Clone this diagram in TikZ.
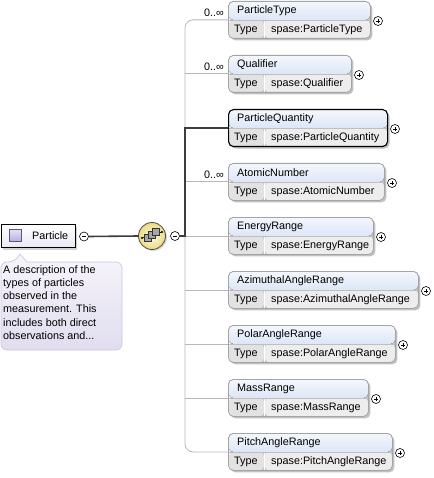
\documentclass[tikz,border=0pt]{standalone}
\usepackage{fontspec}
\setmainfont{Liberation Sans}
\usetikzlibrary{shadows}
\definecolor{hdrtop}{HTML}{F4F7FD}
\definecolor{hdrbot}{HTML}{C5D6F0}
\definecolor{typecell}{HTML}{E2E2E2}
\definecolor{valcell}{HTML}{EDEDED}
\definecolor{boxline}{HTML}{A4A4A4}
\definecolor{connline}{HTML}{B8B8B8}
\definecolor{darkconn}{HTML}{3C3C3C}
\definecolor{doctop}{HTML}{F6F4FB}
\definecolor{docbot}{HTML}{E1DDEF}
\definecolor{docline}{HTML}{CBC7DA}
\definecolor{seqin}{HTML}{FFFBE2}
\definecolor{seqout}{HTML}{EADA86}
\definecolor{icontop}{HTML}{E4DFF6}
\definecolor{iconbot}{HTML}{B9AEDF}
\tikzset{
  lbl/.style={inner sep=0pt, font=\fontsize{10.8}{12}\selectfont, text=black},
  elembox/.style={draw=boxline, line width=0.8pt, rounded corners=5pt, minimum height=37pt, inner sep=0pt,
    drop shadow={shadow xshift=2pt, shadow yshift=-2pt, fill=black!30, opacity=0.8},
    path picture={
      \fill[top color=hdrtop, bottom color=hdrbot] (path picture bounding box.north west) rectangle (path picture bounding box.east);
      \fill[typecell] (path picture bounding box.west) rectangle ([xshift=36pt]path picture bounding box.south west);
      \fill[valcell] ([xshift=36pt]path picture bounding box.west) rectangle (path picture bounding box.south east);
      \draw[white, line width=0.8pt] ([xshift=36pt]path picture bounding box.west) -- ([xshift=36pt]path picture bounding box.south west);
      \draw[boxline!70, line width=0.5pt] (path picture bounding box.west) -- (path picture bounding box.east);
    }},
  strongbox/.style={draw=black, line width=1.1pt},
  tog/.style={circle, draw=black, fill=white, line width=0.6pt, minimum size=9pt, inner sep=0pt},
  minusc/.style={tog, path picture={\draw[line width=0.6pt] ([xshift=-2.3pt]path picture bounding box.center) -- ([xshift=2.3pt]path picture bounding box.center);}},
  plusc/.style={tog, path picture={\draw[line width=0.6pt] ([xshift=-2.3pt]path picture bounding box.center) -- ([xshift=2.3pt]path picture bounding box.center) ([yshift=-2.3pt]path picture bounding box.center) -- ([yshift=2.3pt]path picture bounding box.center);}},
  conn/.style={draw=connline, line width=0.8pt},
  thickconn/.style={draw=darkconn, line width=1.6pt},
  occ/.style={lbl, anchor=east},
}
\newcommand\xelem[5][]{%
  \node[elembox,#1,minimum width=#4pt,anchor=north west] (#2) at (228,#3) {};
  \node[lbl,anchor=west] (#2t) at (237,#3+10) {#5};
  \node[lbl,anchor=west] (#2k) at (234,#3+28.5) {Type};
  \node[lbl,anchor=west] (#2v) at (271,#3+28.5) {spase:#5};
  \node[plusc] (#2p) at (228+#4+8,#3+20) {};
}
\begin{document}
\begin{tikzpicture}[x=1pt,y=-1pt]
\useasboundingbox (0,0) rectangle (433,478);

% elements
\xelem{pt}{1}{142}{ParticleType}
\xelem{q}{55}{123}{Qualifier}
\xelem[strongbox]{pq}{109}{159}{ParticleQuantity}
\xelem{an}{163}{156}{AtomicNumber}
\xelem{er}{217}{145}{EnergyRange}
\xelem{aar}{271}{190}{AzimuthalAngleRange}
\xelem{par}{325}{167}{PolarAngleRange}
\xelem{mr}{379}{140}{MassRange}
\xelem{pit}{433}{164}{PitchAngleRange}

% occurrence labels
\node[occ] (o1) at (224,13) {0..∞};
\node[occ] (o2) at (224,67) {0..∞};
\node[occ] (o4) at (224,175) {0..∞};

% root element
\node[draw=black, line width=0.9pt, minimum width=74pt, minimum height=23pt, inner sep=0pt,
      top color=white, bottom color=docbot!70,
      drop shadow={shadow xshift=2pt, shadow yshift=-2pt, fill=black!35}] (root) at (38,236) {};
\node[draw=iconbot!50!black, line width=0.6pt, top color=icontop, bottom color=iconbot,
      minimum size=12pt, inner sep=0pt] (rooticon) at (15.5,235.5) {};
\node[lbl, anchor=west] (rootlbl) at (32,236) {Particle};
\node[minusc] (rootm) at (84,236.5) {};

% documentation
\draw[draw=docline, line width=0.7pt, top color=doctop, bottom color=docbot]
  (14,262) [sharp corners] -- (20,254) -- (27,262) [rounded corners=6pt] -- (122,262) -- (122,350) -- (1,350) -- (1,262) -- cycle;
\node[lbl, anchor=north west, align=left, font=\fontsize{10.8}{13.3}\selectfont] (doc) at (3,265)
  {A description of the\\types of particles\\observed in the\\measurement. This\\includes both direct\\observations and...};

% sequence compositor
\node[circle, draw=black!70, line width=0.8pt, inner color=seqin, outer color=seqout, minimum size=27pt, inner sep=0pt,
      drop shadow={shadow xshift=1.5pt, shadow yshift=-1.5pt, fill=black!30}] (seq) at (152,236) {};
\draw[black, line width=0.7pt] (142,238) -- (162,232);
\fill[black] (142,238) circle (1.1pt) (162,232) circle (1.1pt);
\foreach \cx/\cy in {148/237.5,152/234.5,156/231.5}
  \filldraw[draw=black!80, fill=black!35, line width=0.5pt] (\cx-3.3,\cy-3.3) rectangle (\cx+3.3,\cy+3.3);
\node[minusc] (seqm) at (175,236) {};

% connectors
\coordinate (spine) at (185,0);
\draw[thickconn] (rootm.east) -- (seq.west);
\draw[conn, rounded corners=8pt] (pt.west) -- (spine |- pt.west) -- (spine |- pit.west) -- (pit.west);
\foreach \n in {q,an,er,aar,par,mr}
  \draw[conn] (spine |- \n.west) -- (\n.west);
\draw[thickconn] (seqm.east) -- (spine |- seqm.east) -- (spine |- pq.west) -- (pq.west);
\end{tikzpicture}
\end{document}
